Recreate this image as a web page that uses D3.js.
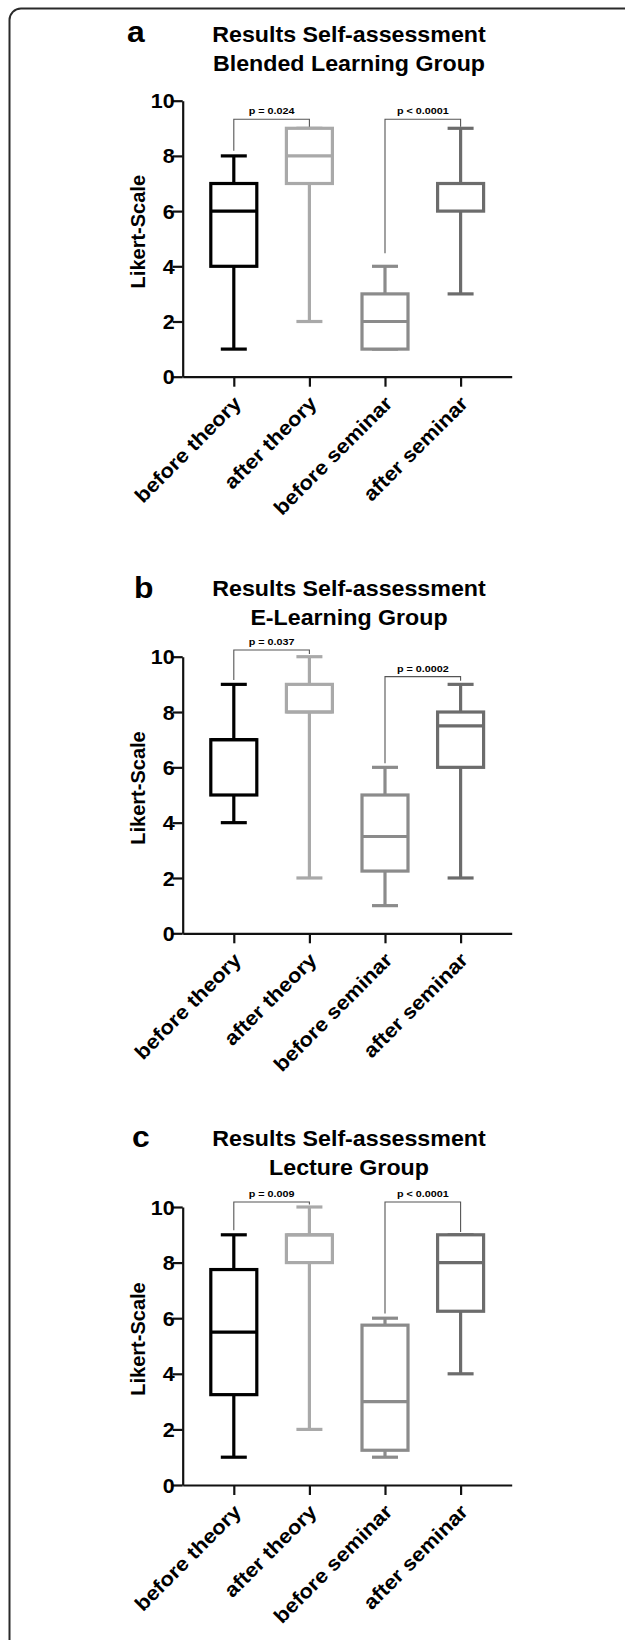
<!DOCTYPE html>
<html>
<head>
<meta charset="utf-8">
<script src="https://cdn.jsdelivr.net/npm/d3@7"></script>
<style>
  body { margin: 0; background: #fff; overflow: hidden; }
  svg { display: block; }
  text { font-family: "Liberation Sans", Arial, sans-serif; font-weight: bold; fill: #000; }
</style>
</head>
<body>
<div id="chart"></div>
<script>
var categories = ["before theory", "after theory", "before seminar", "after seminar"];
var boxColors = ["#000000", "#a9a9a9", "#8b8b8b", "#6c6c6c"];
var yTicks = [0, 2, 4, 6, 8, 10];

// [min, q1, median, q3, max] for each category
var blendedStats = [[1, 4, 6, 7, 8], [2, 7, 8, 9, 9], [1, 1, 2, 3, 4], [3, 6, 7, 7, 9]];
var eLearningStats = [[4, 5, 7, 7, 9], [2, 8, 8, 9, 10], [1, 2.25, 3.5, 5, 6], [2, 6, 7.5, 8, 9]];
var lectureStats = [[1, 3.25, 5.5, 7.75, 9], [2, 8, 9, 9, 10], [1, 1.25, 3, 5.75, 6], [4, 6.25, 8, 9, 9]];

// brackets: [from, to, bar level, left leg end, right leg end, label]
var blendedBrackets = [[0, 1, 9.33, 8.19, 9.06, "p = 0.024"], [2, 3, 9.33, 4.47, 9.06, "p < 0.0001"]];
var eLearningBrackets = [[0, 1, 10.24, 9.16, 10.1, "p = 0.037"], [2, 3, 9.28, 6.15, 9.13, "p = 0.0002"]];
var lectureBrackets = [[0, 1, 10.18, 9.16, 10.09, "p = 0.009"], [2, 3, 10.18, 6.17, 9.1, "p < 0.0001"]];

var panelLetters = ["a", "b", "c"];
var titleLines = [
  ["Results Self-assessment", "Blended Learning Group"],
  ["Results Self-assessment", "E-Learning Group"],
  ["Results Self-assessment", "Lecture Group"]
];
var yLabel = "Likert-Scale";

var width = 625, height = 1640;

var svg = d3.select("#chart").append("svg")
  .attr("width", width)
  .attr("height", height);

svg.append("rect")
  .attr("width", width).attr("height", height)
  .attr("fill", "#fff");

// frame: only the left and top edges are inside the picture
svg.append("path")
  .attr("d", "M625,8.5H21A11.5,11.5 0 0 0 9.5,20V1640")
  .attr("fill", "none")
  .attr("stroke", "#2a2a2a")
  .attr("stroke-width", 2);

var panels = [
  {stats: blendedStats, brackets: blendedBrackets, top: 100.7, bottom: 376.7, titleY: 42, letterX: 127, letterY: 42},
  {stats: eLearningStats, brackets: eLearningBrackets, top: 656.7, bottom: 933.3, titleY: 596, letterX: 134, letterY: 598},
  {stats: lectureStats, brackets: lectureBrackets, top: 1207, bottom: 1485, titleY: 1146, letterX: 132, letterY: 1147}
];

var axisLeftX = 182.7, axisRightX = 511.7;

var xScale = d3.scalePoint()
  .domain(categories)
  .range([axisLeftX, axisRightX])
  .padding(0.676);

panels.forEach(function(p, pi) {
  var g = svg.append("g");

  var yScale = d3.scaleLinear()
    .domain([0, 10])
    .range([p.bottom, p.top]);

  // panel letter + title
  g.append("text")
    .attr("transform", "translate(" + p.letterX + "," + p.letterY + ") scale(1.1,1)")
    .style("font-size", "29px")
    .text(panelLetters[pi]);

  titleLines[pi].forEach(function(line, li) {
    g.append("text")
      .attr("transform", "translate(349," + (p.titleY + li * 28.5) + ") scale(1.08,1)")
      .attr("text-anchor", "middle")
      .style("font-size", "21.5px")
      .text(line);
  });

  // y axis
  var yAxis = d3.axisLeft(yScale)
    .tickValues(yTicks)
    .tickSize(10)
    .tickSizeOuter(0)
    .tickFormat(d3.format("d"));

  var yg = g.append("g")
    .attr("transform", "translate(" + axisLeftX + ",0)")
    .call(yAxis);
  yg.selectAll("path, line").attr("stroke", "#111").attr("stroke-width", 2.2);
  yg.selectAll("text")
    .attr("x", null).attr("dy", "0.36em")
    .attr("transform", "translate(-8,0) scale(1.1,1)")
    .style("font-size", "19.5px")
    .style("font-family", "'Liberation Sans', Arial, sans-serif")
    .style("font-weight", "bold")
    .attr("fill", "#000");

  // x axis
  var xAxis = d3.axisBottom(xScale)
    .tickSize(10)
    .tickSizeOuter(0);

  var xg = g.append("g")
    .attr("transform", "translate(0," + p.bottom + ")")
    .call(xAxis);
  xg.selectAll("path, line").attr("stroke", "#111").attr("stroke-width", 2.2);
  xg.selectAll("text")
    .attr("y", 0).attr("dy", 0)
    .attr("text-anchor", "end")
    .attr("transform", "translate(8,28) rotate(-45) scale(1.1,1)")
    .style("font-size", "20px")
    .style("font-family", "'Liberation Sans', Arial, sans-serif")
    .style("font-weight", "bold")
    .attr("fill", "#000");

  // y axis title
  g.append("text")
    .attr("transform", "translate(144.5," + ((p.top + p.bottom) / 2 - 7) + ") rotate(-90)")
    .attr("text-anchor", "middle")
    .style("font-size", "20px")
    .text(yLabel);

  // boxes
  var boxW = 46, capW = 26;
  var boxes = g.selectAll(".box")
    .data(p.stats)
    .enter()
    .append("g")
    .attr("class", "box");

  boxes.each(function(d, i) {
    var b = d3.select(this);
    var cx = xScale(categories[i]);
    var col = boxColors[i];
    var sw = 3.2;

    b.append("line")
      .attr("x1", cx).attr("x2", cx)
      .attr("y1", yScale(d[1])).attr("y2", yScale(d[0]))
      .attr("stroke", col).attr("stroke-width", sw);
    b.append("line")
      .attr("x1", cx).attr("x2", cx)
      .attr("y1", yScale(d[3])).attr("y2", yScale(d[4]))
      .attr("stroke", col).attr("stroke-width", sw);

    [d[0], d[4]].forEach(function(v) {
      b.append("line")
        .attr("x1", cx - capW / 2).attr("x2", cx + capW / 2)
        .attr("y1", yScale(v)).attr("y2", yScale(v))
        .attr("stroke", col).attr("stroke-width", sw);
    });

    b.append("rect")
      .attr("x", cx - boxW / 2)
      .attr("y", yScale(d[3]))
      .attr("width", boxW)
      .attr("height", yScale(d[1]) - yScale(d[3]))
      .attr("fill", "#fff")
      .attr("stroke", col).attr("stroke-width", sw);

    b.append("line")
      .attr("x1", cx - boxW / 2).attr("x2", cx + boxW / 2)
      .attr("y1", yScale(d[2])).attr("y2", yScale(d[2]))
      .attr("stroke", col).attr("stroke-width", sw);
  });

  // significance brackets
  p.brackets.forEach(function(br) {
    var x1 = xScale(categories[br[0]]), x2 = xScale(categories[br[1]]);
    var yb = yScale(br[2]);
    g.append("path")
      .attr("d", "M" + x1 + "," + yScale(br[3]) + "V" + yb + "H" + x2 + "V" + yScale(br[4]))
      .attr("fill", "none")
      .attr("stroke", "#555")
      .attr("stroke-width", 1.1);
    g.append("text")
      .attr("transform", "translate(" + ((x1 + x2) / 2) + "," + (yb - 5) + ") scale(1.1,1)")
      .attr("text-anchor", "middle")
      .style("font-size", "9.8px")
      .text(br[5]);
  });
});
</script>
</body>
</html>
